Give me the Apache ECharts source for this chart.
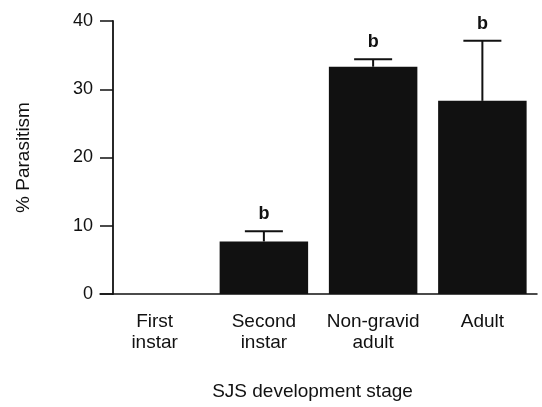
<!DOCTYPE html>
<html><head><meta charset="utf-8">
<script src="https://cdn.jsdelivr.net/npm/echarts@6/dist/echarts.min.js"></script>
<style>html,body{margin:0;padding:0;background:#fff}#c{width:542px;height:407px}</style>
</head><body><div id="c"></div>
<script>
const categories = ['First\ninstar', 'Second\ninstar', 'Non-gravid\nadult', 'Adult'];
const values = [0, 7.7, 33.3, 28.3];
const upperErr = [null, 9.2, 34.4, 37.1];
const letters = ['', 'b', 'b', 'b'];
const yTicks = [0, 10, 20, 30, 40];

const FONT = '"Liberation Sans", Arial, sans-serif';
const chart = echarts.init(document.getElementById('c'), null, {renderer: 'canvas'});
const errData = categories.map((c, i) => [i, values[i], upperErr[i], letters[i]]);

chart.setOption({
  animation: false,
  backgroundColor: '#fff',
  grid: {left: 100, right: 5, top: 21, bottom: 113},
  xAxis: {
    type: 'category', data: categories,
    axisLine: {show: true, lineStyle: {color: '#111', width: 1.5}},
    axisTick: {show: false},
    axisLabel: {interval: 0, color: '#111', fontFamily: FONT, fontSize: 19, lineHeight: 21, margin: 17},
    name: 'SJS development stage', nameLocation: 'middle', nameGap: 88,
    nameTextStyle: {color: '#111', fontFamily: FONT, fontSize: 19, padding: [0, 12, 0, 0]}
  },
  yAxis: {
    type: 'value', min: yTicks[0], max: yTicks[yTicks.length - 1], interval: 10,
    offset: -13,
    splitLine: {show: false},
    axisLine: {show: true, lineStyle: {color: '#111', width: 1.8}},
    axisTick: {show: true, length: 13, lineStyle: {color: '#111', width: 1.5}},
    axisLabel: {color: '#111', fontFamily: FONT, fontSize: 18, margin: 20},
    name: '% Parasitism', nameLocation: 'middle', nameGap: 80,
    nameTextStyle: {color: '#111', fontFamily: FONT, fontSize: 19}
  },
  series: [{
    type: 'bar', data: values, barCategoryGap: '19%',
    itemStyle: {color: '#111'}
  }, {
    type: 'custom', data: errData, z: 5,
    renderItem: function (params, api) {
      const hi = api.value(2);
      if (hi === null || hi === undefined || isNaN(hi)) return null;
      const x = api.value(0);
      const pTop = api.coord([x, hi]);
      const pBar = api.coord([x, api.value(1)]);
      const half = 19;
      const st = {stroke: '#111', lineWidth: 2};
      return {type: 'group', children: [
        {type: 'line', shape: {x1: pTop[0], y1: pTop[1], x2: pBar[0], y2: pBar[1]}, style: st},
        {type: 'line', shape: {x1: pTop[0] - half, y1: pTop[1], x2: pTop[0] + half, y2: pTop[1]}, style: st},
        {type: 'text', style: {text: letters[params.dataIndex], x: pTop[0], y: pTop[1] - 8,
          textAlign: 'center', textVerticalAlign: 'bottom', fill: '#111',
          font: 'bold 18px ' + FONT}}
      ]};
    }
  }]
});
</script></body></html>
